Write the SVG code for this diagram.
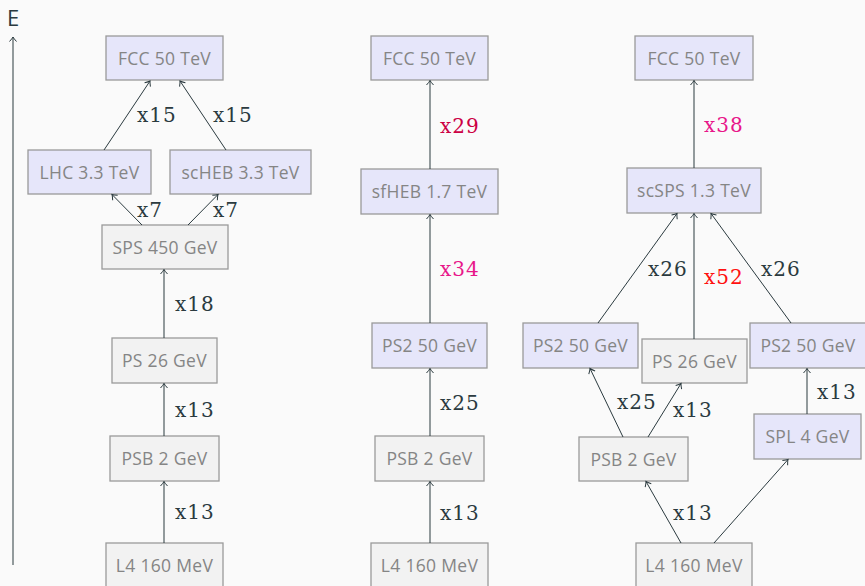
<svg xmlns="http://www.w3.org/2000/svg" width="865" height="586" viewBox="0 0 865 586">
<style>
.bg{fill:#fafafa}
.nb{fill:#e6e6fa;stroke:#9a9a9a;stroke-width:1.3}
.ng{fill:#f2f2f2;stroke:#9a9a9a;stroke-width:1.3}
.nt{font-family:"Open Sans","DejaVu Sans",sans-serif;font-size:17.5px;fill:#858585;text-anchor:middle;letter-spacing:0.3px}
.e{stroke:#2b3a3f;stroke-width:1;fill:none;marker-end:url(#ah)}
.lb{font-family:"DejaVu Serif",serif;font-size:20px;fill:#2b3a3f;letter-spacing:1px}
.c29{fill:#cc0044}
.c34{fill:#e8168a}
.c52{fill:#ff1010}
</style>
<defs>
<marker id="ah" markerUnits="userSpaceOnUse" markerWidth="12" markerHeight="12" viewBox="-6 -6 12 12" refX="0" refY="0" orient="auto">
<path d="M-4.5,-3.5 Q-1.5,-0.8 0,0 Q-1.5,0.8 -4.5,3.5" fill="none" stroke="#2b3a3f" stroke-width="1"/>
</marker>
</defs>
<rect class="bg" x="0" y="0" width="865" height="586"/>
<g id="axis">
<line x1="13" y1="565" x2="13" y2="37" class="e"/>
<text x="7" y="26" font-family="Open Sans, DejaVu Sans, sans-serif" font-size="22" fill="#2b3a3f">E</text>
</g>
<g id="l_fcc"><rect class="nb" x="106" y="36" width="117" height="44"/><text class="nt" x="164.5" y="64.5">FCC 50 TeV</text></g>
<g id="l_lhc"><rect class="nb" x="28" y="150" width="123" height="44"/><text class="nt" x="89.5" y="178.5">LHC 3.3 TeV</text></g>
<g id="l_scheb"><rect class="nb" x="170" y="150" width="141" height="44"/><text class="nt" x="240.5" y="178.5">scHEB 3.3 TeV</text></g>
<g id="l_sps"><rect class="ng" x="102" y="225" width="126" height="44"/><text class="nt" x="165" y="253.5">SPS 450 GeV</text></g>
<g id="l_ps"><rect class="ng" x="112" y="338" width="105" height="45"/><text class="nt" x="164.5" y="367">PS 26 GeV</text></g>
<g id="l_psb"><rect class="ng" x="110" y="436" width="109" height="45"/><text class="nt" x="164.5" y="465">PSB 2 GeV</text></g>
<g id="l_l4"><rect class="ng" x="106" y="543" width="117" height="50"/><text class="nt" x="164.5" y="571.5">L4 160 MeV</text></g>
<g id="m_fcc"><rect class="nb" x="371" y="36" width="117" height="44"/><text class="nt" x="429.5" y="64.5">FCC 50 TeV</text></g>
<g id="m_sfheb"><rect class="nb" x="361" y="169" width="137" height="45"/><text class="nt" x="429.5" y="198">sfHEB 1.7 TeV</text></g>
<g id="m_ps2"><rect class="nb" x="372" y="323" width="115" height="45"/><text class="nt" x="429.5" y="352">PS2 50 GeV</text></g>
<g id="m_psb"><rect class="ng" x="375" y="436" width="109" height="45"/><text class="nt" x="429.5" y="465">PSB 2 GeV</text></g>
<g id="m_l4"><rect class="ng" x="371" y="543" width="117" height="50"/><text class="nt" x="429.5" y="571.5">L4 160 MeV</text></g>
<g id="r_fcc"><rect class="nb" x="635" y="36" width="118" height="44"/><text class="nt" x="694" y="64.5">FCC 50 TeV</text></g>
<g id="r_scsps"><rect class="nb" x="627" y="168" width="134" height="45"/><text class="nt" x="694" y="197">scSPS 1.3 TeV</text></g>
<g id="r_ps2a"><rect class="nb" x="523" y="323" width="115" height="45"/><text class="nt" x="580.5" y="352">PS2 50 GeV</text></g>
<g id="r_ps26"><rect class="ng" x="642" y="339" width="105" height="44"/><text class="nt" x="694.5" y="367.5">PS 26 GeV</text></g>
<g id="r_ps2b"><rect class="nb" x="750" y="323" width="116" height="45"/><text class="nt" x="808" y="352">PS2 50 GeV</text></g>
<g id="r_spl"><rect class="nb" x="754" y="414" width="107" height="45"/><text class="nt" x="807.5" y="443">SPL 4 GeV</text></g>
<g id="r_psb"><rect class="ng" x="579" y="437" width="109" height="44"/><text class="nt" x="633.5" y="465.5">PSB 2 GeV</text></g>
<g id="r_l4"><rect class="ng" x="636" y="543" width="116" height="50"/><text class="nt" x="694" y="571.5">L4 160 MeV</text></g>
<g id="connectors">
<line class="e" x1="104" y1="150" x2="150" y2="81"/>
<line class="e" x1="226" y1="150" x2="180" y2="81"/>
<line class="e" x1="142" y1="225" x2="112" y2="194.5"/>
<line class="e" x1="188" y1="225" x2="218" y2="194.5"/>
<line class="e" x1="164" y1="338" x2="164" y2="269.5"/>
<line class="e" x1="164" y1="436" x2="164" y2="383.5"/>
<line class="e" x1="164" y1="543" x2="164" y2="481.5"/>
<line class="e" x1="430" y1="169" x2="430" y2="80.5"/>
<line class="e" x1="430" y1="323" x2="430" y2="214.5"/>
<line class="e" x1="430" y1="436" x2="430" y2="368.5"/>
<line class="e" x1="430" y1="543" x2="430" y2="481.5"/>
<line class="e" x1="694" y1="168" x2="694" y2="80.5"/>
<line class="e" x1="598" y1="323" x2="677" y2="213.5"/>
<line class="e" x1="694" y1="339" x2="694" y2="213.5"/>
<line class="e" x1="791" y1="323" x2="711" y2="213.5"/>
<line class="e" x1="623" y1="437" x2="590" y2="368.5"/>
<line class="e" x1="648" y1="437" x2="681" y2="383.5"/>
<line class="e" x1="807" y1="414" x2="807" y2="368.5"/>
<line class="e" x1="681" y1="543" x2="646" y2="481.5"/>
<line class="e" x1="714" y1="543" x2="788" y2="459.5"/>
</g>
<g id="labels">
<text class="lb" x="137" y="122">x15</text>
<text class="lb" x="213" y="122">x15</text>
<text class="lb" x="137" y="217">x7</text>
<text class="lb" x="213" y="217">x7</text>
<text class="lb" x="175" y="311">x18</text>
<text class="lb" x="175" y="417">x13</text>
<text class="lb" x="175" y="519">x13</text>
<text class="lb c29" x="440" y="133">x29</text>
<text class="lb c34" x="440" y="276">x34</text>
<text class="lb" x="440" y="410">x25</text>
<text class="lb" x="440" y="520">x13</text>
<text class="lb c34" x="704" y="132">x38</text>
<text class="lb" x="648" y="276">x26</text>
<text class="lb c52" x="704" y="284">x52</text>
<text class="lb" x="761" y="276">x26</text>
<text class="lb" x="617" y="409">x25</text>
<text class="lb" x="673" y="417">x13</text>
<text class="lb" x="817" y="399">x13</text>
<text class="lb" x="673" y="520">x13</text>
</g>
<text x="833" y="593" font-family="Open Sans, DejaVu Sans, sans-serif" font-size="9" fill="#888">11/11</text>
</svg>
